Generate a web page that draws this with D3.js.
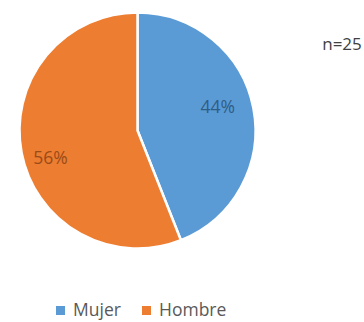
<!DOCTYPE html>
<html>
<head>
<meta charset="utf-8">
<script src="https://cdn.jsdelivr.net/npm/d3@7"></script>
<style>
  body { margin: 0; background: #fff; }
  svg { display: block; font-family: "Open Sans", sans-serif; }
</style>
</head>
<body>
<svg id="chart" width="364" height="322"></svg>
<script>
// data
const categories = ["Mujer", "Hombre"];
const values = [44, 56];
const sampleLabel = "n=25";

const colors = ["#5b9bd5", "#ed7d31"];
const labelColors = ["#2f5d87", "#9a4c18"];

const width = 364;
const height = 322;
const cx = 137.5, cy = 130.5, radius = 118;

const svg = d3.select("#chart");

const pie = d3.pie().sort(null).value((d) => d.value);
const arcs = pie(categories.map((c, i) => ({ name: c, value: values[i] })));

const arc = d3.arc().innerRadius(0).outerRadius(radius);

const g = svg.append("g").attr("transform", `translate(${cx},${cy})`);

g.selectAll("path")
  .data(arcs)
  .join("path")
  .attr("d", arc)
  .attr("fill", (d, i) => colors[i])
  .attr("stroke", "#fff")
  .attr("stroke-width", 2.5);

// labels sit a bit before the mid angle, like the original
const labelR = [84, 91];
g.selectAll("text.pct")
  .data(arcs)
  .join("text")
  .attr("class", "pct")
  .attr("x", (d, i) => labelR[i] * Math.sin((d.startAngle + d.endAngle) / 2 - 0.11))
  .attr("y", (d, i) => -labelR[i] * Math.cos((d.startAngle + d.endAngle) / 2 - 0.11))
  .attr("text-anchor", "middle")
  .attr("dominant-baseline", "central")
  .attr("font-size", 17.5)
  .attr("fill", (d, i) => labelColors[i])
  .text((d) => d.data.value + "%");

svg.append("text")
  .attr("x", 342)
  .attr("y", 50)
  .attr("text-anchor", "middle")
  .attr("font-size", 17)
  .attr("fill", "#404040")
  .text(sampleLabel);

// legend at the bottom, descenders kept inside the frame
const legendX = [56, 142];
const legend = svg.selectAll("g.leg")
  .data(categories)
  .join("g")
  .attr("class", "leg")
  .attr("transform", (d, i) => `translate(${legendX[i]},316)`);

legend.append("rect")
  .attr("x", 0)
  .attr("y", -10)
  .attr("width", 9)
  .attr("height", 9)
  .attr("fill", (d, i) => colors[i]);

legend.append("text")
  .attr("x", 17)
  .attr("y", 0)
  .attr("font-size", 17.5)
  .attr("fill", "#595959")
  .text((d) => d);
</script>
</body>
</html>
